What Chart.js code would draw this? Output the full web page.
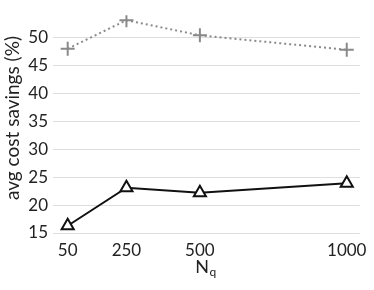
<!DOCTYPE html>
<html>
<head>
<meta charset="utf-8">
<script src="https://cdn.jsdelivr.net/npm/chart.js@4/dist/chart.umd.min.js"></script>
<style>
  html, body { margin: 0; padding: 0; background: #fff; }
  #wrap { width: 374px; height: 290px; }
</style>
</head>
<body>
<div id="wrap"><canvas id="chart"></canvas></div>
<script>
// данные
const nq        = [50, 250, 500, 1000]
const xTicks    = [50, 250, 500, 1000]
const yTicks    = [15, 20, 25, 30, 35, 40, 45, 50]
const upperVals = [48.0, 53.1, 50.4, 47.8]   // серая пунктирная
const lowerVals = [16.3, 23.1, 22.2, 23.9]   // чёрная сплошная

const FONT = 'Lato, "Open Sans", sans-serif'

Chart.defaults.font.family = FONT
Chart.defaults.color = '#222'

// подписи осей рисуем сами (N с индексом q)
const axisTitles = {
    id: 'axisTitles',
    afterDraw(chart) {
        const { ctx, chartArea } = chart
        ctx.save()
        ctx.fillStyle = '#222'
        ctx.textBaseline = 'middle'

        // Y
        ctx.font = '19px ' + FONT
        ctx.translate(13, 118)
        ctx.rotate(-Math.PI / 2)
        ctx.textAlign = 'center'
        ctx.fillText('avg cost savings (%)', 0, 0)
        ctx.restore()

        // X
        ctx.save()
        ctx.fillStyle = '#222'
        ctx.textBaseline = 'alphabetic'
        ctx.font = '18px ' + FONT
        const cx = (chartArea.left + chartArea.right) / 2 - 1
        const nW = ctx.measureText('N').width
        ctx.font = '12px ' + FONT
        const qW = ctx.measureText('q').width
        const x0 = cx - (nW + qW) / 2
        ctx.font = '18px ' + FONT
        ctx.textAlign = 'left'
        ctx.fillText('N', x0, 273)
        ctx.font = '12px ' + FONT
        ctx.fillText('q', x0 + nW + 0.5, 276)
        ctx.restore()
    }
}

new Chart(document.getElementById('chart'), {
    type: 'line',
    data: {
        datasets: [
            {
                data: nq.map((x, i) => ({ x, y: upperVals[i] })),
                borderColor: '#8a8a8a',
                borderWidth: 2,
                borderDash: [2, 3],
                pointStyle: 'cross',
                pointRadius: 7,
                pointBorderWidth: 2,
                pointBorderColor: '#8a8a8a',
                backgroundColor: '#8a8a8a',
                tension: 0,
            },
            {
                data: nq.map((x, i) => ({ x, y: lowerVals[i] })),
                borderColor: '#111',
                borderWidth: 2,
                pointStyle: 'triangle',
                pointRadius: 7,
                pointBorderWidth: 2,
                pointBorderColor: '#111',
                pointBackgroundColor: '#fff',
                tension: 0,
            },
        ]
    },
    options: {
        responsive: true,
        maintainAspectRatio: false,
        animation: false,
        layout: { padding: { top: 10, right: 12, left: 0, bottom: 0 } },
        plugins: { legend: { display: false }, tooltip: { enabled: false } },
        scales: {
            x: {
                type: 'linear',
                min: 0,
                max: 1045,
                afterBuildTicks: s => { s.ticks = xTicks.map(v => ({ value: v })) },
                afterFit: s => { s.height = 57 },
                grid: { display: false, drawTicks: false },
                border: { display: false },
                ticks: { font: { size: 17 }, padding: 7, color: '#222', maxRotation: 0, callback: v => String(v) },
            },
            y: {
                min: 15,
                max: 54,
                afterBuildTicks: s => { s.ticks = yTicks.map(v => ({ value: v })) },
                afterFit: s => { s.width = 53 },
                grid: { color: '#dedede', lineWidth: 1, drawTicks: false },
                border: { display: false },
                ticks: { font: { size: 17 }, padding: 5, color: '#222' },
            }
        }
    },
    plugins: [axisTitles]
})
</script>
</body>
</html>
